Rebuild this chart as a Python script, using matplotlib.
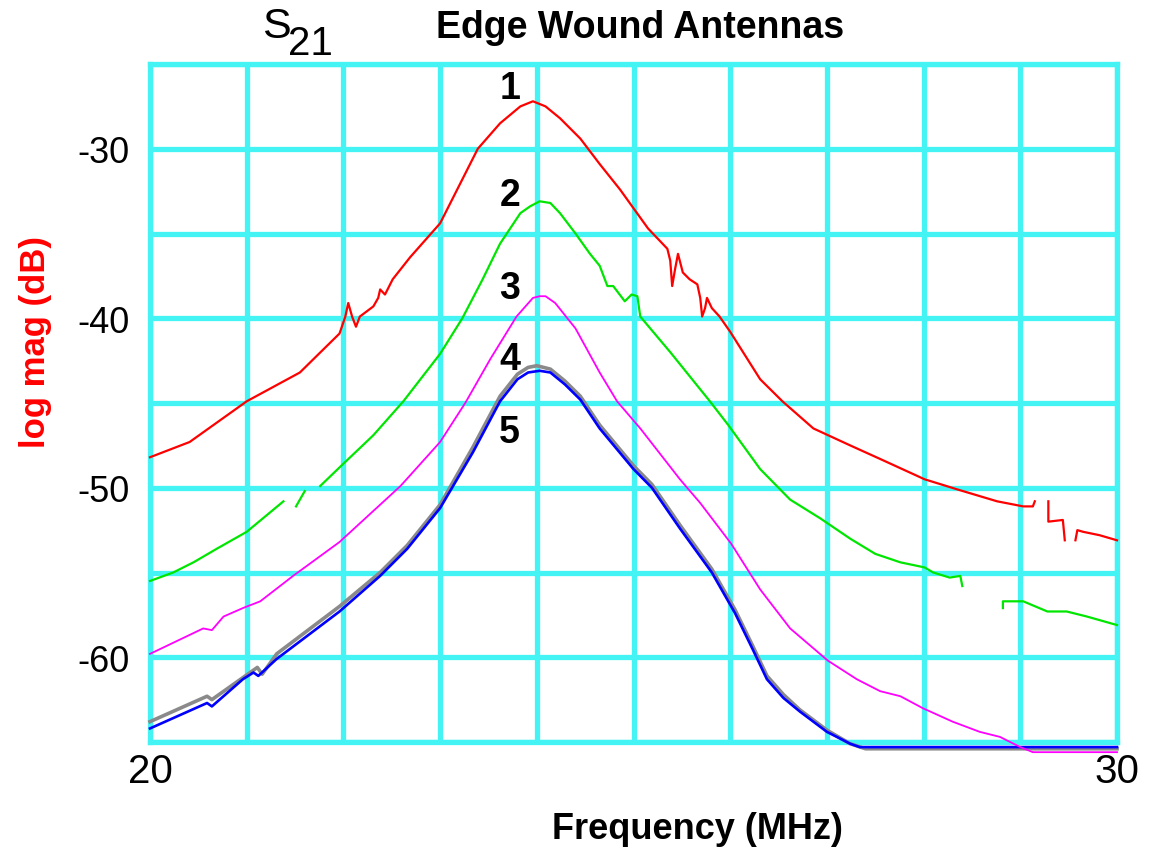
import numpy as np
import matplotlib
matplotlib.use('Agg')
import matplotlib.pyplot as plt

plt.rcParams['font.family'] = ['Liberation Sans', 'DejaVu Sans']

nan = np.nan

# S21 traces: (frequency MHz, log mag dB)
trace1 = [(20.00, -48.2), (20.41, -47.3), (21.00, -44.9), (21.55, -43.2), (21.96, -40.9),
          (22.02, -39.9), (22.05, -39.1), (22.09, -39.9), (22.13, -40.5), (22.17, -39.9),
          (22.31, -39.3), (22.36, -38.8), (22.38, -38.3), (22.43, -38.6), (22.51, -37.7),
          (22.69, -36.4), (23.00, -34.4), (23.39, -30.0), (23.62, -28.5), (23.83, -27.5),
          (23.96, -27.2), (24.09, -27.5), (24.24, -28.2), (24.45, -29.4), (24.65, -30.9),
          (24.86, -32.4), (25.15, -34.7), (25.35, -35.9), (25.38, -36.6), (25.40, -38.1),
          (25.43, -37.1), (25.46, -36.2), (25.51, -37.3), (25.58, -37.7), (25.66, -38.0),
          (25.69, -38.8), (25.71, -39.9), (25.74, -39.4), (25.76, -38.8), (25.81, -39.4),
          (25.89, -39.9), (26.00, -40.8), (26.31, -43.6), (26.54, -44.9), (26.86, -46.5),
          (27.24, -47.5), (27.55, -48.3), (28.01, -49.5), (28.35, -50.1), (28.76, -50.8),
          (29.03, -51.1), (29.13, -51.1), (29.15, -50.8), (nan, nan),
          (29.29, -50.8), (29.29, -52.0), (29.44, -51.9), (29.46, -53.1), (nan, nan),
          (29.57, -53.1), (29.59, -52.5), (29.65, -52.6), (29.82, -52.8), (30.00, -53.1)]

trace2 = [(20.00, -55.5), (20.24, -55.0), (20.45, -54.4), (20.69, -53.6), (21.00, -52.6),
          (21.38, -50.8), (nan, nan), (21.51, -51.1), (21.60, -50.2), (nan, nan),
          (21.76, -49.9), (21.96, -48.8), (22.31, -46.9), (22.62, -44.9), (23.00, -42.1),
          (23.23, -40.0), (23.44, -37.7), (23.62, -35.6), (23.83, -33.8), (23.93, -33.4),
          (24.03, -33.1), (24.14, -33.2), (24.24, -33.8), (24.40, -35.0), (24.55, -36.2),
          (24.65, -36.9), (24.73, -38.1), (24.79, -38.1), (24.91, -39.0), (24.98, -38.6),
          (25.04, -38.7), (25.07, -39.9), (25.38, -42.0), (25.79, -44.9), (25.98, -46.3),
          (26.31, -48.9), (26.62, -50.7), (26.93, -51.8), (27.24, -53.0), (27.50, -53.9),
          (27.76, -54.4), (28.01, -54.7), (28.10, -55.0), (28.27, -55.3), (28.38, -55.2),
          (28.40, -55.8), (nan, nan),
          (28.82, -57.1), (28.82, -56.7), (29.03, -56.7), (29.28, -57.3), (29.48, -57.3),
          (29.69, -57.6), (30.00, -58.1)]

trace3 = [(20.00, -59.8), (20.55, -58.3), (20.64, -58.4), (20.76, -57.6), (20.96, -57.1),
          (21.14, -56.7), (21.48, -55.2), (21.96, -53.2), (22.59, -49.9), (23.00, -47.3),
          (23.26, -45.0), (23.52, -42.4), (23.79, -39.9), (23.96, -38.8), (24.03, -38.7),
          (24.09, -38.7), (24.19, -39.1), (24.40, -40.6), (24.65, -43.2), (24.83, -44.9),
          (25.07, -46.5), (25.48, -49.5), (25.69, -50.9), (26.01, -53.3), (26.31, -56.0),
          (26.62, -58.3), (27.01, -60.2), (27.31, -61.3), (27.55, -62.0), (27.76, -62.3),
          (27.99, -63.0), (28.30, -63.8), (28.58, -64.4), (28.79, -64.7), (29.00, -65.3),
          (29.13, -65.6), (30.00, -65.6)]

trace4 = [(20.00, -63.8), (20.59, -62.3), (20.64, -62.5), (21.11, -60.6), (21.16, -61.0),
          (21.31, -59.8), (21.96, -57.0), (22.38, -55.0), (22.66, -53.4), (23.00, -51.0),
          (23.34, -47.6), (23.62, -44.6), (23.80, -43.3), (23.91, -42.9), (24.00, -42.8),
          (24.14, -43.0), (24.29, -43.7), (24.45, -44.6), (24.65, -46.3), (25.00, -48.7),
          (25.19, -49.8), (25.48, -52.2), (25.81, -54.8), (26.05, -57.2), (26.23, -59.3),
          (26.38, -61.1), (26.55, -62.2), (26.72, -63.1), (27.00, -64.3), (27.24, -65.1),
          (27.40, -65.4), (30.00, -65.4)]

trace5 = [(20.00, -64.2), (20.59, -62.7), (20.64, -62.9), (20.96, -61.3), (21.07, -60.9),
          (21.12, -61.1), (21.31, -60.1), (21.96, -57.3), (22.38, -55.2), (22.66, -53.6),
          (23.00, -51.2), (23.34, -47.9), (23.62, -44.9), (23.80, -43.6), (23.91, -43.2),
          (24.03, -43.1), (24.14, -43.2), (24.29, -43.9), (24.45, -44.8), (24.65, -46.5),
          (25.00, -48.9), (25.19, -50.0), (25.48, -52.4), (25.81, -55.0), (26.05, -57.4),
          (26.23, -59.5), (26.38, -61.3), (26.55, -62.4), (26.72, -63.2), (27.00, -64.4),
          (27.24, -65.1), (27.34, -65.3), (30.00, -65.3)]

trace_names = ['1', '2', '3', '4', '5']
# where the curve numbers sit (MHz, dB)
label_pos = [(23.72, -26.4), (23.72, -32.7), (23.72, -38.2), (23.72, -42.4), (23.72, -46.7)]

x_ticks = list(range(20, 31))
x_labels = ['20', '', '', '', '', '', '', '', '', '', '30']
y_ticks = list(range(-65, -24, 5))
y_labels = ['', '-60', '', '-50', '', '-40', '', '-30', '']

grid_col = '#44F4F4'

fig = plt.figure(figsize=(11.5, 8.53), dpi=100)
ax = fig.add_axes([150 / 1150, 1 - 743 / 853, 967 / 1150, 678 / 853])

# gray drawn first so blue sits on top of it
styles = [(trace4, '#8a8a8a', 2.6), (trace5, '#0000FF', 1.9),
          (trace1, '#FF0000', 1.6), (trace2, '#00E600', 1.6), (trace3, '#FF00FF', 1.3)]
for data, col, lw in styles:
    f, db = zip(*data)
    ax.plot(f, db, color=col, lw=lw, clip_on=False, zorder=3)

for name, (fx, fy) in zip(trace_names, label_pos):
    ax.text(fx, fy, name, fontsize=27, fontweight='bold', ha='center', va='center', zorder=4)

ax.set_xlim(20, 30)
ax.set_ylim(-65, -25)
ax.set_xticks(x_ticks)
ax.set_xticklabels(x_labels, fontsize=29)
ax.set_yticks(y_ticks)
ax.set_yticklabels(y_labels, fontsize=26)
ax.tick_params(axis='both', length=0)
ax.tick_params(axis='x', pad=7)
ax.tick_params(axis='y', pad=15)
ax.grid(True, color=grid_col, lw=3.8)
ax.set_axisbelow(True)
for sp in ax.spines.values():
    sp.set_color(grid_col)
    sp.set_linewidth(3.8)

fig.text(36 / 1150, 1 - 342 / 853, 'log mag (dB)', color='#FF0000', fontsize=25,
         fontweight='bold', rotation=90, ha='center', va='center')
fig.text(697 / 1150, 1 - 830 / 853, 'Frequency (MHz)', fontsize=26, fontweight='bold',
         ha='center', va='center')
fig.text(640 / 1150, 1 - 28 / 853, 'Edge Wound Antennas', fontsize=27, fontweight='bold',
         ha='center', va='center')
fig.text(276 / 1150, 1 - 27 / 853, 'S', fontsize=31, ha='center', va='center')
fig.text(310 / 1150, 1 - 44 / 853, '21', fontsize=29, ha='center', va='center')

fig.savefig('out.png', dpi=100, facecolor='white')
